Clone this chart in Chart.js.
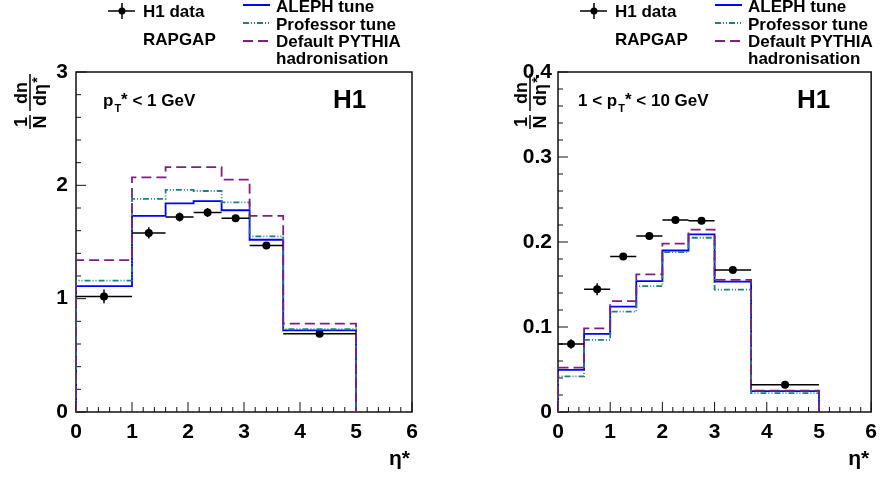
<!DOCTYPE html>
<html>
<head>
<meta charset="utf-8">
<script src="https://cdn.jsdelivr.net/npm/chart.js@4"></script>
<style>
  body { margin: 0; background: #fff; }
  #wrap { position: relative; width: 885px; height: 479px; }
  canvas { position: absolute; top: 0; }
</style>
</head>
<body>
<div id="wrap">
  <canvas id="low" width="442" height="479" style="left:0"></canvas>
  <canvas id="high" width="443" height="479" style="left:442px"></canvas>
</div>
<script>
// pT* < 1 GeV
var lowEdges  = [0, 1, 1.6, 2.1, 2.6, 3.1, 3.7, 5];
var lowData   = [1.02, 1.58, 1.72, 1.76, 1.71, 1.47, 0.69];
var lowErr    = [0.06, 0.05, 0.04, 0.04, 0.02, 0.02, 0.015];
var lowAleph  = [1.11, 1.73, 1.84, 1.86, 1.78, 1.52, 0.72];
var lowProf   = [1.16, 1.88, 1.96, 1.95, 1.85, 1.55, 0.73];
var lowPythia = [1.34, 2.07, 2.16, 2.16, 2.05, 1.73, 0.78];

// 1 < pT* < 10 GeV
var highEdges  = [0, 0.5, 1, 1.5, 2, 2.5, 3, 3.7, 5];
var highData   = [0.080, 0.1445, 0.183, 0.207, 0.226, 0.225, 0.167, 0.032];
var highErr    = [0.0055, 0.007, 0.004, 0.003, 0.003, 0.003, 0.003, 0.002];
var highAleph  = [0.0496, 0.0918, 0.124, 0.154, 0.190, 0.209, 0.1535, 0.0246];
var highProf   = [0.0418, 0.0848, 0.118, 0.148, 0.188, 0.205, 0.144, 0.0223];
var highPythia = [0.0523, 0.0985, 0.1305, 0.162, 0.198, 0.2145, 0.1555, 0.025];

var xTicks = [0, 1, 2, 3, 4, 5, 6];

var FONT = '"Liberation Sans", Arial, Helvetica, sans-serif';
var BLUE = '#0000ff', TEAL = '#1f8080', PURPLE = '#7f1f7f';

function histPoints(edges, vals) {
  var pts = [{ x: edges[0], y: 0 }];
  vals.forEach(function (v, i) { pts.push({ x: edges[i], y: v }); });
  pts.push({ x: edges[edges.length - 1], y: 0 });
  return pts;
}

function centres(edges, vals) {
  return vals.map(function (v, i) { return { x: (edges[i] + edges[i + 1]) / 2, y: v }; });
}

function bold(size) { return 'bold ' + size + 'px ' + FONT; }

function richText(ctx, x, y, parts) {
  parts.forEach(function (p) {
    ctx.font = bold(p.size);
    ctx.fillText(p.t, x, y + (p.dy || 0));
    x += ctx.measureText(p.t).width + (p.gap || 0);
  });
}

function histSet(edges, vals, colour, dash) {
  // 'before' = horizontal first, then vertical step
  return {
    type: 'line', data: histPoints(edges, vals), stepped: 'before',
    borderColor: colour, borderWidth: 1.8, borderDash: dash,
    pointRadius: 0, fill: false
  };
}

function makePanel(id, cfg) {
  var decor = {
    id: 'decor',
    beforeDatasetsDraw: function (chart) {
      var a = chart.chartArea, ctx = chart.ctx;
      var xs = chart.scales.x, ys = chart.scales.y;
      ctx.save();
      ctx.strokeStyle = '#111';
      ctx.lineWidth = 1.5;
      ctx.strokeRect(a.left, a.top, a.right - a.left, a.bottom - a.top);
      ctx.lineWidth = 1;
      ctx.beginPath();
      for (var i = 0; i <= 30; i++) {
        var v = i * 0.2, px = xs.getPixelForValue(v), len = (i % 5 === 0) ? 10 : 5;
        ctx.moveTo(px, a.bottom); ctx.lineTo(px, a.bottom - len);
      }
      var n = Math.round(cfg.yMax / cfg.yStep) * 5;
      for (var j = 0; j <= n; j++) {
        var py = ys.getPixelForValue(j * cfg.yStep / 5), l2 = (j % 5 === 0) ? 10 : 5;
        ctx.moveTo(a.left, py); ctx.lineTo(a.left + l2, py);
      }
      ctx.stroke();
      ctx.restore();
    },
    afterDatasetsDraw: function (chart) {
      var ctx = chart.ctx, xs = chart.scales.x, ys = chart.scales.y;
      ctx.save();
      ctx.strokeStyle = '#000';
      ctx.lineWidth = 1.5;
      ctx.beginPath();
      cfg.data.forEach(function (v, i) {
        var y = ys.getPixelForValue(v);
        ctx.moveTo(xs.getPixelForValue(cfg.edges[i]), y);
        ctx.lineTo(xs.getPixelForValue(cfg.edges[i + 1]), y);
        var c = xs.getPixelForValue((cfg.edges[i] + cfg.edges[i + 1]) / 2);
        ctx.moveTo(c, ys.getPixelForValue(v - cfg.err[i]));
        ctx.lineTo(c, ys.getPixelForValue(v + cfg.err[i]));
      });
      ctx.stroke();
      ctx.restore();
    },
    afterDraw: function (chart) {
      var ctx = chart.ctx, L = cfg.legendX;
      ctx.save();
      ctx.fillStyle = '#000';
      ctx.textBaseline = 'alphabetic';
      // legend: data marker
      ctx.strokeStyle = '#000';
      ctx.lineWidth = 1.5;
      ctx.beginPath();
      ctx.moveTo(L, 11); ctx.lineTo(L + 27, 11);
      ctx.moveTo(L + 14, 3); ctx.lineTo(L + 14, 19);
      ctx.stroke();
      ctx.beginPath(); ctx.arc(L + 14, 11, 3.5, 0, 2 * Math.PI); ctx.fill();
      ctx.font = bold(17);
      ctx.fillText('H1 data', L + 35, 17);
      ctx.fillText('RAPGAP', L + 35, 45);
      // legend: MC lines
      var M = L + 135;
      [[BLUE, [], 5], [TEAL, [6, 2, 1, 2, 1, 2], 23], [PURPLE, [10, 5], 41]].forEach(function (s) {
        ctx.strokeStyle = s[0]; ctx.setLineDash(s[1]); ctx.lineWidth = 2;
        ctx.beginPath(); ctx.moveTo(M, s[2]); ctx.lineTo(M + 27, s[2]); ctx.stroke();
      });
      ctx.setLineDash([]);
      ctx.fillText('ALEPH tune', M + 33, 12);
      ctx.fillText('Professor tune', M + 33, 29.5);
      ctx.fillText('Default PYTHIA', M + 33, 47);
      ctx.fillText('hadronisation', M + 33, 64);
      // pT label and H1
      richText(ctx, cfg.labelX, 106, cfg.label);
      ctx.font = bold(26);
      ctx.fillText('H1', cfg.h1X, 108);
      // x title
      ctx.font = bold(21);
      ctx.textAlign = 'right';
      ctx.fillText('\u03b7*', chart.chartArea.right - 2, 465);
      // y title (rotated fraction)
      ctx.translate(cfg.titleX, 129);
      ctx.rotate(-Math.PI / 2);
      ctx.textAlign = 'center';
      ctx.lineWidth = 1.5;
      ctx.strokeStyle = '#000';
      ctx.beginPath();
      ctx.moveTo(0, 0); ctx.lineTo(14, 0);
      ctx.moveTo(18, 0); ctx.lineTo(55, 0);
      ctx.stroke();
      ctx.font = bold(18);
      ctx.textBaseline = 'alphabetic';
      ctx.fillText('1', 7, -3);
      ctx.fillText('dn', 36, -3);
      ctx.textBaseline = 'top';
      ctx.fillText('N', 7, 2);
      ctx.fillText('d\u03b7', 34, 2);
      ctx.font = bold(14);
      ctx.fillText('*', 49, 1);
      ctx.restore();
    }
  };

  return new Chart(document.getElementById(id), {
    data: {
      datasets: [
        histSet(cfg.edges, cfg.pythia, PURPLE, [10, 5]),
        histSet(cfg.edges, cfg.prof, TEAL, [6, 2, 1, 2, 1, 2]),
        histSet(cfg.edges, cfg.aleph, BLUE, []),
        {
          type: 'scatter', data: centres(cfg.edges, cfg.data),
          pointRadius: 4, pointBackgroundColor: '#000', pointBorderColor: '#000', pointBorderWidth: 0
        }
      ]
    },
    options: {
      responsive: false,
      animation: false,
      events: [],
      layout: { padding: cfg.padding },
      plugins: { legend: { display: false }, tooltip: { enabled: false } },
      scales: {
        x: {
          type: 'linear', min: 0, max: 6,
          afterBuildTicks: function (s) { s.ticks = xTicks.map(function (v) { return { value: v }; }); },
          afterFit: function (s) { s.height = 60; },
          grid: { display: false, drawTicks: false },
          border: { display: false },
          ticks: { color: '#000', padding: 8, maxRotation: 0, font: { family: FONT, size: 21, weight: 'bold' } }
        },
        y: {
          type: 'linear', min: 0, max: cfg.yMax,
          afterBuildTicks: function (s) { s.ticks = cfg.yTicks.map(function (v) { return { value: v }; }); },
          afterFit: function (s) { s.width = 60; },
          grid: { display: false, drawTicks: false },
          border: { display: false },
          ticks: { color: '#000', padding: cfg.yPad, font: { family: FONT, size: 21, weight: 'bold' } }
        }
      }
    },
    plugins: [decor]
  });
}

makePanel('low', {
  edges: lowEdges, data: lowData, err: lowErr,
  aleph: lowAleph, prof: lowProf, pythia: lowPythia,
  yMax: 3, yStep: 1, yTicks: [0, 1, 2, 3], yPad: 8,
  padding: { left: 16, right: 30, top: 72, bottom: 7 },
  legendX: 108, labelX: 103, h1X: 333, titleX: 30,
  label: [{ t: 'p', size: 17, gap: 1 }, { t: 'T', size: 11, dy: 6 }, { t: '*', size: 17, dy: -1 }, { t: ' < 1 GeV', size: 17 }]
});

makePanel('high', {
  edges: highEdges, data: highData, err: highErr,
  aleph: highAleph, prof: highProf, pythia: highPythia,
  yMax: 0.4, yStep: 0.1, yTicks: [0, 0.1, 0.2, 0.3, 0.4], yPad: 6,
  padding: { left: 56, right: 8, top: 72, bottom: 7 },
  legendX: 138, labelX: 136, h1X: 355, titleX: 88,
  label: [{ t: '1 < p', size: 17, gap: 1 }, { t: 'T', size: 11, dy: 6 }, { t: '*', size: 17, dy: -1 }, { t: ' < 10 GeV', size: 17 }]
});
</script>
</body>
</html>
